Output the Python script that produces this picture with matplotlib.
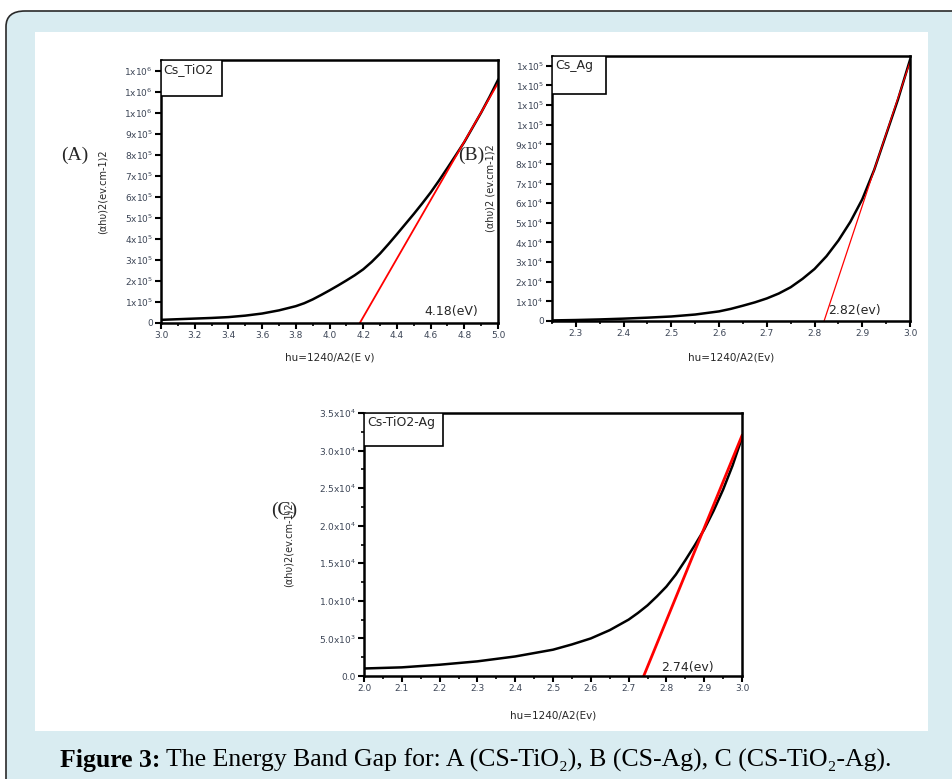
import matplotlib
matplotlib.use('Agg')
import matplotlib.pyplot as plt
from matplotlib.patches import FancyBboxPatch, Rectangle
from matplotlib.ticker import MultipleLocator, FuncFormatter
import numpy as np

W, H = 952, 779

# (A) Cs_TiO2
a_x = [3.0, 3.1, 3.2, 3.3, 3.4, 3.5, 3.6, 3.7, 3.75, 3.8, 3.85, 3.9, 3.95, 4.0,
       4.05, 4.1, 4.15, 4.2, 4.25, 4.3, 4.35, 4.4, 4.45, 4.5, 4.55, 4.6,
       4.65, 4.7, 4.75, 4.8, 4.85, 4.9, 4.95, 5.0]
a_y = [1.5e4, 1.8e4, 2.1e4, 2.4e4, 2.8e4, 3.5e4, 4.5e4, 6.0e4, 7.0e4, 8.0e4, 9.4e4, 1.12e5, 1.33e5, 1.55e5,
       1.78e5, 2.02e5, 2.27e5, 2.55e5, 2.9e5, 3.3e5, 3.75e5, 4.22e5, 4.7e5, 5.18e5, 5.68e5, 6.2e5,
       6.77e5, 7.37e5, 7.98e5, 8.6e5, 9.3e5, 1.0e6, 1.075e6, 1.155e6]
a_fit_x = [4.18, 5.0]
a_fit_y = [0, 1.14e6]

# (B) Cs_Ag
b_x = [2.25, 2.3, 2.35, 2.4, 2.45, 2.5, 2.55, 2.6, 2.625, 2.65, 2.675, 2.7, 2.725, 2.75,
       2.775, 2.8, 2.825, 2.85, 2.875, 2.9, 2.925, 2.95, 2.975, 3.0]
b_y = [300, 500, 800, 1200, 1700, 2300, 3300, 4900, 6200, 7800, 9500, 1.15e4, 1.4e4, 1.72e4,
       2.15e4, 2.65e4, 3.3e4, 4.1e4, 5.05e4, 6.2e4, 7.7e4, 9.5e4, 1.13e5, 1.33e5]
b_fit_x = [2.82, 3.0]
b_fit_y = [0, 1.32e5]

# (C) Cs-TiO2-Ag
c_x = [2.0, 2.1, 2.2, 2.3, 2.4, 2.5, 2.55, 2.6, 2.65, 2.7, 2.725, 2.75, 2.775, 2.8,
       2.825, 2.85, 2.875, 2.9, 2.925, 2.95, 2.975, 3.0]
c_y = [1.0e3, 1.15e3, 1.5e3, 1.95e3, 2.6e3, 3.5e3, 4.2e3, 5.0e3, 6.1e3, 7.5e3, 8.4e3, 9.4e3, 1.06e4, 1.19e4,
       1.35e4, 1.54e4, 1.74e4, 1.95e4, 2.2e4, 2.48e4, 2.8e4, 3.17e4]
c_fit_x = [2.74, 3.0]
c_fit_y = [0, 3.2e4]

tick_col = '#3c4556'
text_col = '#262626'


def fx(px):
    return px / W


def fy(py):
    return 1 - py / H


def make_axes(l, t, r, b):
    ax = fig.add_axes([fx(l), fy(b), fx(r - l), (b - t) / H])
    ax.set_zorder(2)
    return ax


def sci_int(v, pos):
    if v < -1e-6:
        return ''
    if abs(v) < 1e-6:
        return '0'
    e = int(np.floor(np.log10(v) + 1e-9))
    return r'%dx10$^{%d}$' % (int(v / 10 ** e + 1e-9), e)


def sci_1f(v, pos):
    if v < -1e-6:
        return ''
    if abs(v) < 1e-6:
        return '0.0'
    e = int(np.floor(np.log10(v) + 1e-9))
    return r'%.1fx10$^{%d}$' % (v / 10 ** e, e)


def style(ax, name, box_w, box_h):
    for s in ax.spines.values():
        s.set_linewidth(1.8)
    ax.tick_params(which='major', direction='out', length=4, width=1.5,
                   labelsize=6.5, labelcolor=tick_col, pad=2)
    ax.tick_params(which='minor', direction='out', length=2.5, width=1.2)
    ax.add_patch(Rectangle((0, 1 - box_h), box_w, box_h, transform=ax.transAxes,
                           facecolor='white', edgecolor='black', lw=1.2, zorder=5))
    ax.text(0.008, 0.99, name, transform=ax.transAxes, ha='left', va='top',
            fontsize=9, color=text_col, zorder=6)


fig = plt.figure(figsize=(W / 100, H / 100), dpi=100)
fig.patch.set_facecolor('white')

# page frame
fig.patches.append(FancyBboxPatch((fx(6), fy(800)), fx(980), (800 - 11) / H,
                                  boxstyle='round,pad=0,rounding_size=0.02',
                                  transform=fig.transFigure, facecolor='#d9ecf1',
                                  edgecolor='#2a2a2a', lw=1.2, zorder=-2))
fig.patches.append(Rectangle((fx(35), fy(731)), fx(928 - 35), (731 - 32) / H,
                             transform=fig.transFigure, facecolor='white',
                             edgecolor='none', zorder=-1))

# panel A
ax1 = make_axes(161, 60, 498, 323)
ax1.plot(a_x, a_y, color='black', lw=1.8)
ax1.plot(a_fit_x, a_fit_y, color='red', lw=1.3)
ax1.set_xlim(3.0, 5.0)
ax1.set_ylim(0, 1.25e6)
ax1.xaxis.set_major_locator(MultipleLocator(0.2))
ax1.xaxis.set_minor_locator(MultipleLocator(0.1))
ax1.yaxis.set_major_locator(MultipleLocator(1e5))
ax1.yaxis.set_major_formatter(FuncFormatter(sci_int))
ax1.xaxis.set_major_formatter(FuncFormatter(lambda v, p: '%.1f' % v))
style(ax1, 'Cs_TiO2', 0.18, 0.135)
ax1.set_xlabel('hu=1240/A2(E v)', fontsize=7.5, color=text_col, labelpad=9)
ax1.set_ylabel('(αhυ)2(ev.cm-1)2', fontsize=7, color=text_col, labelpad=12)
ax1.text(4.565, 0.025e6, '4.18(eV)', fontsize=9, color=text_col, ha='left', va='bottom')

# panel B
ax2 = make_axes(552, 56, 910, 321)
ax2.plot(b_x, b_y, color='black', lw=1.8)
ax2.plot(b_fit_x, b_fit_y, color='red', lw=0.9)
ax2.set_xlim(2.25, 3.0)
ax2.set_ylim(0, 1.35e5)
ax2.xaxis.set_major_locator(MultipleLocator(0.1))
ax2.xaxis.set_minor_locator(MultipleLocator(0.05))
ax2.yaxis.set_major_locator(MultipleLocator(1e4))
ax2.yaxis.set_major_formatter(FuncFormatter(sci_int))
ax2.xaxis.set_major_formatter(FuncFormatter(lambda v, p: '%.1f' % v))
style(ax2, 'Cs_Ag', 0.15, 0.145)
ax2.set_xlabel('hu=1240/A2(Ev)', fontsize=7.5, color=text_col, labelpad=10)
ax2.set_ylabel('(αhυ)2 (ev.cm-1)2', fontsize=7, color=text_col, labelpad=14)
ax2.text(2.828, 0.02e5, '2.82(ev)', fontsize=9, color=text_col, ha='left', va='bottom')

# panel C
ax3 = make_axes(364, 413, 742, 676)
ax3.plot(c_x, c_y, color='black', lw=1.8)
ax3.plot(c_fit_x, c_fit_y, color='red', lw=2.0)
ax3.set_xlim(2.0, 3.0)
ax3.set_ylim(0, 3.5e4)
ax3.xaxis.set_major_locator(MultipleLocator(0.1))
ax3.xaxis.set_minor_locator(MultipleLocator(0.05))
ax3.yaxis.set_major_locator(MultipleLocator(5e3))
ax3.yaxis.set_minor_locator(MultipleLocator(2.5e3))
ax3.yaxis.set_major_formatter(FuncFormatter(sci_1f))
ax3.xaxis.set_major_formatter(FuncFormatter(lambda v, p: '%.1f' % v))
style(ax3, 'Cs-TiO2-Ag', 0.21, 0.125)
ax3.set_xlabel('hu=1240/A2(Ev)', fontsize=7.5, color=text_col, labelpad=12)
ax3.set_ylabel('(αhυ)2(ev.cm-1)2', fontsize=7, color=text_col, labelpad=18)
ax3.text(2.785, 0.02e4, '2.74(ev)', fontsize=9, color=text_col, ha='left', va='bottom')

# panel letters
for s, x, y in [('(A)', 75, 155), ('(B)', 471, 155), ('(C)', 284, 510)]:
    fig.text(fx(x), fy(y), s, fontsize=14, family=['Liberation Serif', 'DejaVu Serif'],
             color=text_col, ha='center', va='center', zorder=3)

# caption, bold lead-in followed by regular text
cap_font = ['Liberation Serif', 'DejaVu Serif']
bold = fig.text(0, fy(760), 'Figure 3:', fontsize=18.5, weight='bold', family=cap_font,
                color='black', va='center', ha='left')
rest = fig.text(0, fy(760), ' The Energy Band Gap for: A (CS-TiO₂), B (CS-Ag), C (CS-TiO₂-Ag).',
                fontsize=18.5, family=cap_font, color='black', va='center', ha='left')
r = fig.canvas.get_renderer()
wb = bold.get_window_extent(r).width
wr = rest.get_window_extent(r).width
x0 = (W - wb - wr) / 2
bold.set_x(fx(x0))
rest.set_x(fx(x0 + wb))

fig.savefig('out.png', dpi=100)
